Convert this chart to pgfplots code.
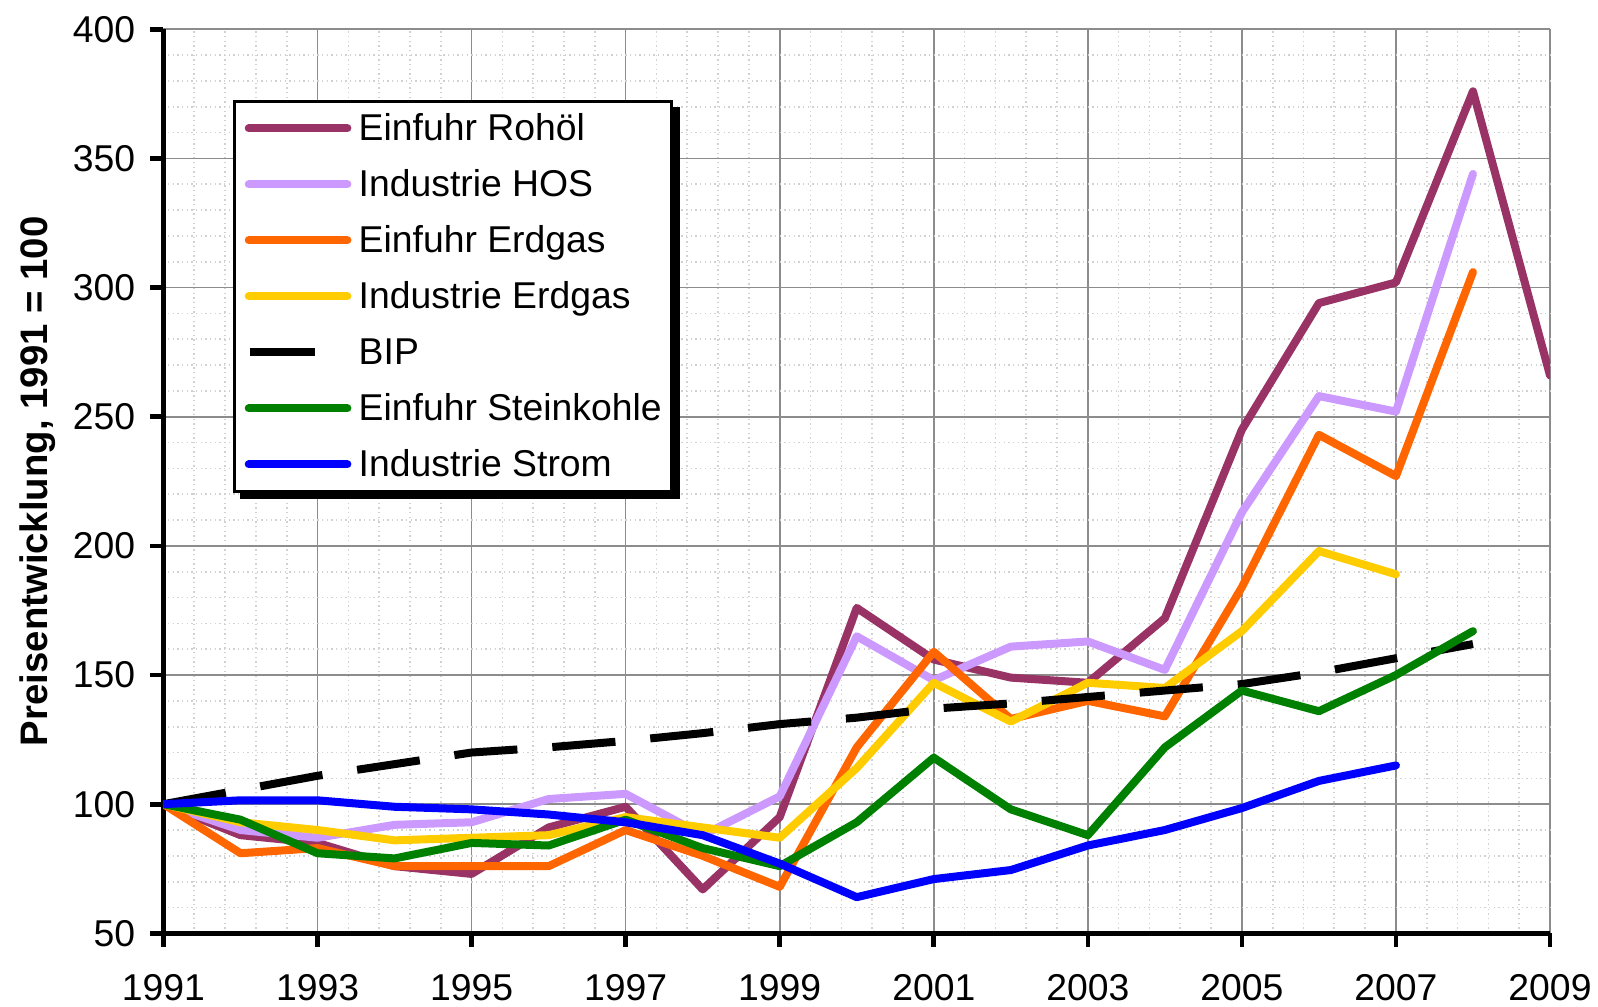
\documentclass[border=0pt]{standalone}
\usepackage{fontspec}
\setmainfont{Liberation Sans}
\usepackage{pgfplots}
\pgfplotsset{compat=1.18}
\definecolor{cRoh}{RGB}{153,51,102}
\definecolor{cHOS}{RGB}{204,153,255}
\definecolor{cEG}{RGB}{255,102,0}
\definecolor{cIEG}{RGB}{255,204,0}
\definecolor{cSK}{RGB}{0,128,0}
\definecolor{cStr}{RGB}{0,0,255}
\begin{document}
\begin{tikzpicture}
\begin{axis}[
  scale only axis, width=415.95pt, height=271.2pt,
  xmin=1991, xmax=2009, ymin=50, ymax=400,
  xtick={1991,1993,...,2009}, ytick={50,100,...,400},
  minor x tick num=4, minor y tick num=4,
  grid=both,
  major grid style={draw=black!45, line width=0.5pt},
  minor grid style={draw=black!18, densely dotted, line width=0.5pt},
  axis lines*=left,
  axis line style={line width=1.5pt, black},
  tick align=outside,
  major tick length=4pt, minor tick length=0pt,
  major tick style={line width=1.4pt, black},
  tick label style={font=\fontsize{11.2}{13}\selectfont},
  xticklabel style={yshift=-4.9pt},
  yticklabel style={xshift=-1pt},
  /pgf/number format/assume math mode=true,
  /pgf/number format/1000 sep={},
  ylabel={\bfseries Preisentwicklung, 1991 = 100},
  ylabel style={font=\fontsize{11.5}{13}\selectfont, at={(rel axis cs:-0.0905,0.5)}, anchor=center},
  legend style={name=lgd, at={(0.0503,0.9218)}, anchor=north west, draw=black, line width=0.9pt, fill=white,
    font=\fontsize{11.2}{13}\selectfont, inner xsep=3pt, inner ysep=3.8pt,
    nodes={inner sep=0pt, text height=8pt, text depth=0.5pt}, row sep=8.3pt, column sep=2.2pt},
  legend cell align=left,
  legend image code/.code={\draw[#1] (0pt,0pt) -- (29.6pt,0pt);},
  every axis plot/.append style={line width=2.4pt, line cap=round, line join=round},
]
\addplot[cRoh] coordinates {(1991,100)(1992,88)(1993,85)(1994,76)(1995,73)(1996,91)(1997,99)(1998,67)(1999,95)(2000,176)(2001,156)(2002,149)(2003,147)(2004,172)(2005,245)(2006,294)(2007,302)(2008,376)(2009,266)};
\addlegendentry{Einfuhr Rohöl}
\addplot[cHOS] coordinates {(1991,100)(1992,90)(1993,87)(1994,92)(1995,93)(1996,102)(1997,104)(1998,88)(1999,103)(2000,165)(2001,148)(2002,161)(2003,163)(2004,152)(2005,213)(2006,258)(2007,252)(2008,344)};
\addlegendentry{Industrie HOS}
\addplot[cEG] coordinates {(1991,100)(1992,81)(1993,83)(1994,76)(1995,76)(1996,76)(1997,90)(1998,80)(1999,68)(2000,122)(2001,159)(2002,133)(2003,140)(2004,134)(2005,184)(2006,243)(2007,227)(2008,306)};
\addlegendentry{Einfuhr Erdgas}
\addplot[cIEG] coordinates {(1991,100)(1992,93)(1993,90)(1994,86)(1995,87)(1996,88)(1997,95)(1998,91)(1999,87)(2000,114)(2001,147)(2002,132)(2003,147)(2004,145)(2005,167)(2006,198)(2007,189)};
\addlegendentry{Industrie Erdgas}
\addplot[black, line cap=butt, dash pattern=on 19pt off 10.5pt,
  legend image code/.code={\draw[black, line width=2.4pt, line cap=butt, dash pattern=on 19.5pt off 20pt] (0.3pt,0pt) -- (29.6pt,0pt);}]
  coordinates {(1991,100)(1992,105.5)(1993,111)(1994,115.5)(1995,120)(1996,122)(1997,124.5)(1998,127.5)(1999,131)(2000,133.5)(2001,137)(2002,139)(2003,141.5)(2004,144)(2005,146.5)(2006,151)(2007,156.5)(2008,162)};
\addlegendentry{BIP}
\addplot[cSK] coordinates {(1991,100)(1992,94)(1993,81)(1994,79)(1995,85)(1996,84)(1997,94)(1998,83)(1999,76)(2000,93)(2001,118)(2002,98)(2003,88)(2004,122)(2005,144)(2006,136)(2007,150)(2008,167)};
\addlegendentry{Einfuhr Steinkohle}
\addplot[cStr] coordinates {(1991,100)(1992,101.5)(1993,101.5)(1994,99)(1995,98)(1996,96)(1997,93)(1998,88)(1999,77)(2000,64)(2001,71)(2002,74.5)(2003,84)(2004,90)(2005,98.5)(2006,109)(2007,115)};
\addlegendentry{Industrie Strom}
\end{axis}
\fill[black] ([shift={(0pt,-2pt)}]lgd.north east) rectangle ([shift={(2pt,-2pt)}]lgd.south east);
\fill[black] ([shift={(2pt,0pt)}]lgd.south west) rectangle ([shift={(2pt,-2pt)}]lgd.south east);
\pgfresetboundingbox
\path[use as bounding box] ([shift={(-49.05pt,-22.1pt)}]current axis.south west) rectangle ++(479.4pt,302.1pt);
\end{tikzpicture}
\end{document}
